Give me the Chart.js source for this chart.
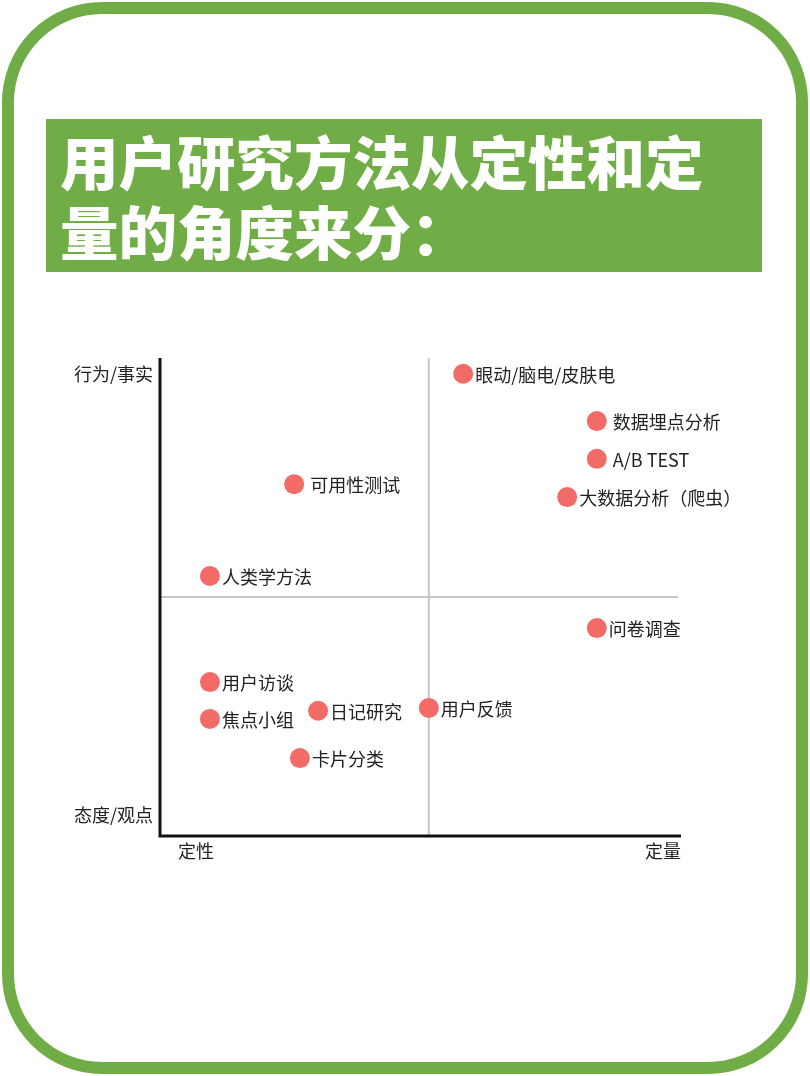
<!DOCTYPE html>
<html lang="zh">
<head>
    <meta charset="UTF-8">
    <title>用户研究方法</title>
    <script src="https://cdn.jsdelivr.net/npm/chart.js"></script>
    <style>
        html, body { margin: 0; padding: 0; background: #fff; }
        body { width: 810px; height: 1076px; position: relative; overflow: hidden;
               font-family: "Noto Sans CJK SC", "Noto Sans", sans-serif; }
        .frame { position: absolute; left: 2px; top: 2px; width: 806px; height: 1072px;
                 box-sizing: border-box; border: 12px solid #70AD47; border-radius: 100px; }
        .title { position: absolute; left: 46px; top: 119px; width: 716px; height: 153px;
                 margin: 0; padding: 6px 0 0 14px; box-sizing: border-box;
                 background: #70AD47; color: #fff; font-size: 58.5px; font-weight: 900;
                 line-height: 70px; }
        .chart-box { position: absolute; left: 0; top: 330px; width: 810px; height: 560px; }
    </style>
</head>
<body>
    <div class="frame"></div>
    <h1 class="title">用户研究方法从定性和定<br>量的角度来分：</h1>
    <div class="chart-box"><canvas id="quadChart"></canvas></div>

    <script>
        // method names, x = 定性 -> 定量, y = 态度/观点 -> 行为/事实
        const methods = ['眼动/脑电/皮肤电', ' 数据埋点分析', ' A/B TEST', '大数据分析（爬虫）', ' 可用性测试',
                         '人类学方法', '问卷调查', '用户访谈', '焦点小组', '日记研究', '用户反馈', '卡片分类'];
        const qualQuant = [58.3, 84.0, 84.0, 78.3, 25.8, 9.6, 84.0, 9.6, 9.6, 30.4, 51.7, 26.9];
        const factOpinion = [96.7, 86.8, 78.9, 70.9, 73.6, 54.4, 43.5, 32.2, 24.5, 26.2, 26.8, 16.3];

        const xAxisLabels = ['定性', '定量'];
        const yAxisLabels = ['态度/观点', '行为/事实'];
        const xSplit = 51.7;
        const ySplit = 50;

        const points = methods.map((m, i) => ({ x: qualQuant[i], y: factOpinion[i] }));
        const labelFont = '18px "Noto Sans CJK SC", sans-serif';

        const quadrantPlugin = {
            id: 'quadrants',
            beforeDatasetsDraw(chart) {
                const { ctx, chartArea, scales: { x, y } } = chart;
                ctx.save();
                // split lines
                ctx.strokeStyle = '#c6c6c6';
                ctx.lineWidth = 2;
                ctx.beginPath();
                ctx.moveTo(x.getPixelForValue(xSplit), chartArea.top);
                ctx.lineTo(x.getPixelForValue(xSplit), chartArea.bottom);
                ctx.moveTo(chartArea.left, y.getPixelForValue(ySplit));
                ctx.lineTo(chartArea.right - 2, y.getPixelForValue(ySplit));
                ctx.stroke();
                // main axes
                ctx.strokeStyle = '#111';
                ctx.lineWidth = 3;
                ctx.beginPath();
                ctx.moveTo(chartArea.left, chartArea.top);
                ctx.lineTo(chartArea.left, chartArea.bottom);
                ctx.lineTo(chartArea.right + 1, chartArea.bottom);
                ctx.stroke();
                // axis end labels
                ctx.font = labelFont;
                ctx.fillStyle = '#222';
                ctx.textBaseline = 'middle';
                ctx.textAlign = 'right';
                ctx.fillText(yAxisLabels[1], chartArea.left - 7, chartArea.top + 16);
                ctx.fillText(yAxisLabels[0], chartArea.left - 7, chartArea.bottom - 21);
                ctx.textAlign = 'left';
                ctx.fillText(xAxisLabels[0], chartArea.left + 18, chartArea.bottom + 15);
                ctx.textAlign = 'right';
                ctx.fillText(xAxisLabels[1], chartArea.right + 1, chartArea.bottom + 15);
                ctx.restore();
            },
            afterDatasetsDraw(chart) {
                const { ctx } = chart;
                const meta = chart.getDatasetMeta(0);
                ctx.save();
                ctx.font = labelFont;
                ctx.fillStyle = '#222';
                ctx.textBaseline = 'middle';
                ctx.textAlign = 'left';
                meta.data.forEach((pt, i) => {
                    ctx.fillText(methods[i], pt.x + 12, pt.y + 1);
                });
                ctx.restore();
            }
        };

        new Chart(document.getElementById('quadChart'), {
            type: 'scatter',
            data: {
                datasets: [{
                    data: points,
                    backgroundColor: '#F36B67',
                    borderWidth: 0,
                    pointRadius: 10,
                    pointHoverRadius: 10
                }]
            },
            options: {
                responsive: true,
                maintainAspectRatio: false,
                animation: false,
                layout: { padding: { left: 160, right: 130, top: 28, bottom: 54 } },
                plugins: { legend: { display: false }, tooltip: { enabled: false } },
                scales: {
                    x: { display: false, min: 0, max: 100 },
                    y: { display: false, min: 0, max: 100 }
                }
            },
            plugins: [quadrantPlugin]
        });
    </script>
</body>
</html>
